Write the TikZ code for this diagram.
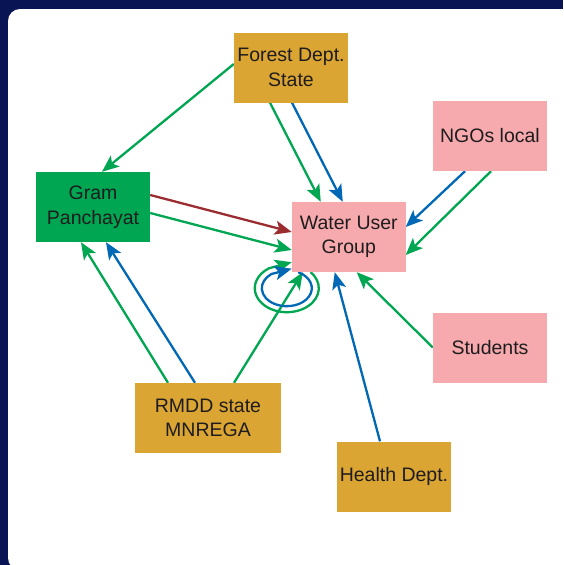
\documentclass[tikz,border=0pt]{standalone}
\usepackage{fontspec}
\setmainfont{Liberation Sans}
\usetikzlibrary{arrows.meta}
\pgfdeclarelayer{panel}
\pgfdeclarelayer{edges}
\pgfsetlayers{panel,edges,main}

\definecolor{navy}{RGB}{8,20,84}
\definecolor{gold}{RGB}{218,165,50}
\definecolor{rosy}{RGB}{246,170,173}
\definecolor{leaf}{RGB}{0,166,81}
\definecolor{sky}{RGB}{0,104,180}
\definecolor{wine}{RGB}{155,45,48}
\definecolor{ink}{RGB}{30,28,30}

\tikzset{
  actor/.style={minimum width=114pt, minimum height=70pt, inner sep=0pt,
    align=center, text=ink, font=\fontsize{19.5}{24.5}\selectfont},
  goldbox/.style={actor, fill=gold},
  pinkbox/.style={actor, fill=rosy},
  greenbox/.style={actor, fill=leaf},
  link/.style={line width=2.3pt, -{Stealth[length=17pt,width=14pt,inset=4pt]}},
  gl/.style={link, draw=leaf},
  bl/.style={link, draw=sky},
  rl/.style={link, draw=wine},
}

\begin{document}
\begin{tikzpicture}[x=1pt, y=-1pt]
\useasboundingbox (0,0) rectangle (563,565);

% frame and white panel
\begin{pgfonlayer}{panel}
  \fill[navy] (0,0) rectangle (563,565);
  \fill[white, rounded corners=12pt] (8,9) rectangle (590,570);
\end{pgfonlayer}

% actors
\node[goldbox]  (forest)   at (291,67.5)  {Forest Dept.\\State};
\node[pinkbox]  (ngos)     at (490,136)   {NGOs local};
\node[greenbox] (gram)     at (93,207)    {Gram\\Panchayat};
\node[pinkbox, minimum width=113.5pt] (water) at (348.75,237) {Water User\\Group};
\node[pinkbox]  (students) at (490,347.5) {Students};
\node[goldbox, minimum width=146pt] (rmdd) at (208,418) {RMDD state\\MNREGA};
\node[goldbox]  (health)   at (394,476.5) {Health Dept.};

% relations
\begin{pgfonlayer}{edges}
  \draw[gl] ([yshift=3.5pt]forest.west) -- ([xshift=9pt]gram.north);
  \draw[gl] ([xshift=-21pt]forest.south) -- ([xshift=-28pt]water.north);
  \draw[bl] ([xshift=1pt]forest.south) -- ([xshift=-6pt]water.north);

  \draw[bl] ([xshift=-25pt]ngos.south) -- ([yshift=10pt]water.east);
  \draw[gl] ([xshift=1pt]ngos.south) -- ([yshift=-18pt]water.east);

  \draw[rl] ([yshift=12pt]gram.east) -- ([yshift=5pt]water.west);
  \draw[gl] ([yshift=-6pt]gram.east) -- ([yshift=-13pt]water.west);

  \draw[gl] ([xshift=-40pt]rmdd.north) -- ([xshift=-12pt]gram.south);
  \draw[bl] ([xshift=-13pt]rmdd.north) -- ([xshift=13pt]gram.south);
  \draw[gl] ([xshift=26pt]rmdd.north) -- ([xshift=-46pt]water.south);

  \draw[bl] ([xshift=-14pt]health.north) -- ([xshift=-14pt]water.south);
  \draw[gl] (students.west) -- ([xshift=8pt]water.south);

  % self-relations of the user group
  \coordinate (loopc) at ([xshift=-5pt,yshift=-16pt]water.south west);
  \draw[gl] ([shift={(42:32pt and 24pt)}]loopc)
      arc[start angle=42, end angle=-236, x radius=32pt, y radius=24pt]
      -- ([yshift=10pt]water.south west);
  \draw[bl] ([shift={(63:25pt and 18pt)}]loopc)
      arc[start angle=63, end angle=-232, x radius=25pt, y radius=18pt]
      -- ([yshift=3.5pt]water.south west);
\end{pgfonlayer}
\end{tikzpicture}
\end{document}
